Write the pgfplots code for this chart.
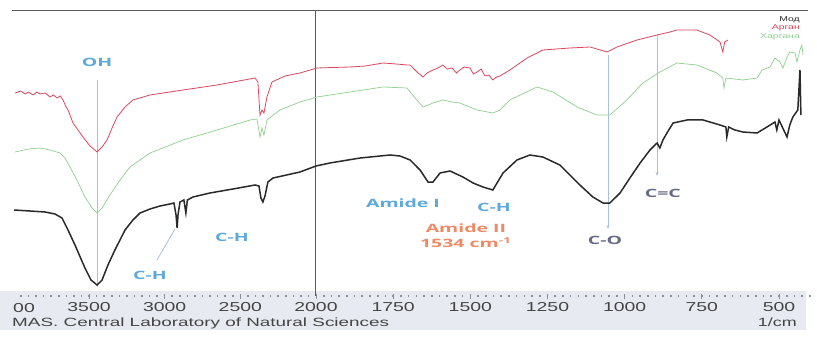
\documentclass[border=0pt]{standalone}
\usepackage{pgfplots}
\pgfplotsset{compat=1.18}
\usepackage{pgfplotstable}
\usepackage{graphicx}
\usepackage{fontspec}
\setmainfont{Liberation Sans}
\newfontfamily\annfont{Open Sans}
\usetikzlibrary{arrows.meta}
\definecolor{woodc}{HTML}{2A2A2A}
\definecolor{redc}{HTML}{D9485F}
\definecolor{greenc}{HTML}{8ED08E}
\definecolor{bandc}{HTML}{E7EBF1}
\definecolor{tickc}{HTML}{8A8F98}
\definecolor{labc}{HTML}{444444}
\definecolor{bluec}{HTML}{5EA8DC}
\definecolor{orangec}{HTML}{EE8A66}
\definecolor{slatec}{HTML}{666B88}
\definecolor{arrc}{HTML}{A6C3D8}
\definecolor{topc}{HTML}{5A5A5A}
\newcommand{\sx}[1]{\scalebox{1.5}[1]{#1}}
\newcommand{\sa}[1]{\scalebox{1.7}[1]{#1}}

\pgfplotstableread{
wn y
3996 129
3890 128
3791 127
3725 125
3679 121
3639 109
3593 94
3527 71
3487 59
3447 54
3414 59
3375 74
3329 89
3262 109
3210 119
3163 126
3097 130
3031 133
2965 135
2939 136
2925 124
2918 111
2912 124
2899 137
2873 139
2860 126
2850 139
2813 142
2701 146
2549 150
2403 154
2377 153
2364 141
2351 137
2337 143
2318 157
2284 161
2106 167
2000 173
1955 176
1857 181
1760 184
1728 183
1695 179
1663 169
1637 157
1621 157
1598 166
1566 168
1524 162
1491 156
1459 152
1427 149
1394 166
1349 179
1307 184
1265 182
1210 174
1145 154
1103 142
1070 136
1048 136
1015 146
983 161
950 176
918 189
895 196
886 191
876 199
863 206
843 216
798 219
746 219
691 214
672 212
669 202
663 212
643 209
617 207
571 206
539 212
513 217
507 209
500 219
474 202
465 214
455 222
439 229
432 269
429 224
}\wood

\pgfplotstableread{
wn y
3989 246
3950 248
3923 245
3900 247
3870 244
3845 247
3824 245
3790 246
3758 242
3735 244
3712 241
3690 243
3672 239
3655 233
3639 229
3606 216
3573 209
3540 202
3494 193
3447 187
3414 192
3381 199
3348 211
3315 222
3262 232
3210 239
3097 244
2879 249
2654 254
2403 261
2384 257
2370 224
2357 229
2344 226
2324 242
2291 257
2205 263
2106 266
1997 271
1890 272
1840 273
1783 276
1740 275
1705 274
1695 274
1673 267
1653 262
1640 266
1621 269
1605 271
1589 274
1575 270
1559 271
1545 266
1534 269
1520 272
1501 271
1490 265
1478 267
1465 270
1453 263
1440 264
1427 259
1415 262
1404 263
1372 269
1316 281
1265 289
1177 291
1112 292
1057 287
1025 292
960 299
895 304
853 307
831 309
766 309
724 304
691 297
682 287
676 297
665 299
}\argan

\pgfplotstableread{
wn y
3989 187
3900 190
3824 191
3758 189
3692 186
3659 181
3626 172
3580 159
3527 142
3480 131
3447 126
3414 131
3362 144
3295 159
3229 172
3097 186
2879 199
2654 209
2436 219
2390 220
2370 202
2357 211
2344 204
2324 219
2238 229
2106 237
1997 242
1890 247
1783 252
1705 251
1679 241
1653 232
1621 236
1589 239
1560 237
1534 236
1478 229
1427 226
1404 229
1372 239
1284 252
1232 247
1154 232
1090 224
1048 224
993 239
941 256
886 267
831 276
766 274
701 266
682 261
678 251
672 261
617 259
571 261
555 269
529 272
513 281
497 277
487 271
474 282
465 287
448 286
442 277
432 289
426 294
422 284
}\third

\begin{document}
\begin{tikzpicture}[x=1bp,y=1bp]
\path[use as bounding box] (0,0) rectangle (817,339);
\fill[white] (0,0) rectangle (817,339);
\fill[bandc] (0,9) rectangle (806,48);
\begin{axis}[
  at={(0,43)}, anchor=south west,
  scale only axis, width=817bp, height=296bp,
  xmin=-1311.3, xmax=4088.6, x dir=reverse,
  ymin=43, ymax=339,
  clip=false,
  axis line style={draw=none},
  ytick=\empty,
  xtick={3500,3000,2500,2000,1490,980,470,-40,-550,-1060},
  xticklabels={\sx{3500},\sx{3000},\sx{2500},\sx{2000},\sx{1750},\sx{1500},\sx{1250},\sx{1000},\sx{750},\sx{500}},
  minor xtick={3950,3900,...,2050,1949,1898,...,-1264},
  xtick pos=bottom,
  tick align=center,
  major tick length=5bp,
  minor tick length=1.6bp,
  major tick style={draw=tickc, line width=0.9bp},
  minor tick style={draw=tickc, line width=1.6bp},
  xticklabel style={anchor=base, yshift=-13bp, font=\fontsize{13}{15}\selectfont, text=labc},
]
% frame lines
\draw[topc, line width=0.9bp] (axis cs:4009,329) -- (axis cs:-1252,329);
\draw[topc, line width=1bp] (axis cs:2000,329) -- (axis cs:2000,43);
% marker lines
\draw[arrc, line width=0.9bp] (axis cs:3447,259) -- (axis cs:3447,52);
\draw[arrc, line width=0.8bp] (axis cs:3051,79) -- (axis cs:2932,110);
\draw[arrc, line width=0.9bp, -{Stealth[length=4bp,width=3bp]}] (axis cs:70,284) -- (axis cs:70,110);
\draw[arrc, line width=0.9bp, -{Stealth[length=4bp,width=3bp]}] (axis cs:-254,304) -- (axis cs:-254,163);
% spectra
\addplot[greenc, line width=0.7bp] table[x expr={\thisrow{wn}-1.04*max(0,2000-\thisrow{wn})}, y=y] {\third};
\addplot[redc, line width=0.8bp] table[x expr={\thisrow{wn}-1.04*max(0,2000-\thisrow{wn})}, y=y] {\argan};
\addplot[woodc, line width=1.5bp] table[x expr={\thisrow{wn}-1.04*max(0,2000-\thisrow{wn})}, y=y] {\wood};
% annotations
\begin{scope}[every node/.style={font=\annfont\bfseries\fontsize{11.5}{13}\selectfont, inner sep=0pt}]
\node[text=bluec] at (axis cs:3447,277) {\sa{OH}};
\node[text=bluec] at (axis cs:3097,64) {\sa{C-H}};
\node[text=bluec] at (axis cs:2555,102) {\sa{C-H}};
\node[text=bluec] at (axis cs:1425,136) {\sa{Amide I}};
\node[text=bluec] at (axis cs:824,132) {\sa{C-H}};
\node[text=orangec] at (axis cs:1009,111) {\sa{Amide II}};
\node[text=orangec] at (axis cs:1009,96) {\sa{1534 cm\textsuperscript{-1}}};
\node[text=slatec] at (axis cs:90,99) {\sa{C-O}};
\node[text=slatec] at (axis cs:-293,146) {\sa{C=C}};
\end{scope}
% legend
\begin{scope}[every node/.style={font=\fontsize{7}{8}\selectfont, inner sep=0pt, anchor=base east}]
\node[text=woodc] at (axis cs:-1199,317) {\sx{Мод}};
\node[text=redc] at (axis cs:-1199,309) {\sx{Арган}};
\node[text=greenc] at (axis cs:-1199,300) {\sx{Харгана}};
\end{scope}
\end{axis}
\node[anchor=base west, text=labc, font=\fontsize{13}{15}\selectfont, inner sep=0pt] at (13,27) {\sx{00}};
\node[anchor=base west, text=labc, font=\fontsize{12}{14}\selectfont, inner sep=0pt] at (12,13) {\scalebox{1.58}[1]{MAS. Central Laboratory of Natural Sciences}};
\node[anchor=base east, text=labc, font=\fontsize{12}{14}\selectfont, inner sep=0pt] at (797,13) {\scalebox{1.5}[1]{1/cm}};
\end{tikzpicture}
\end{document}
